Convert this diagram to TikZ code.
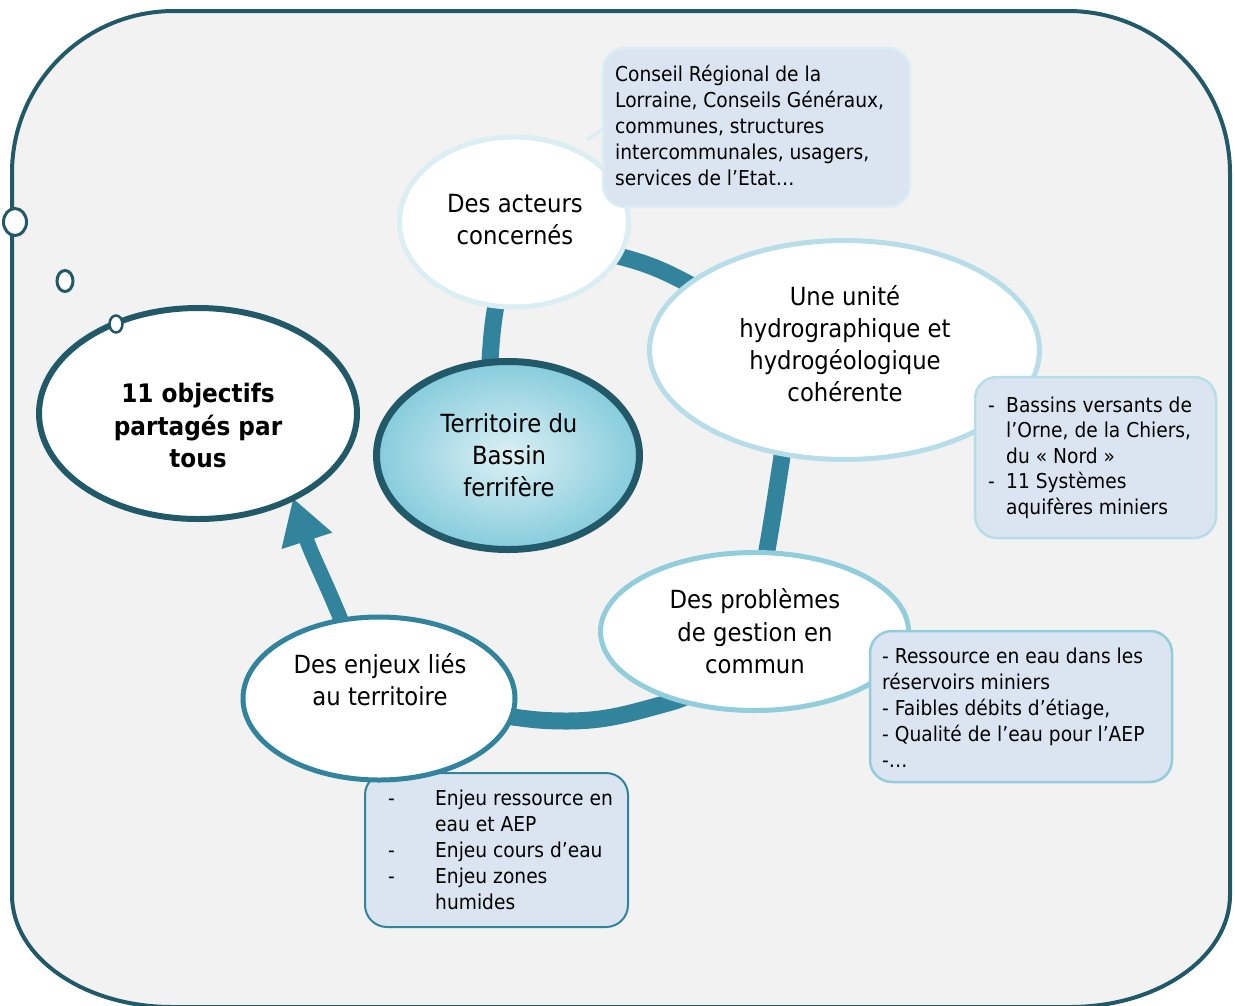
\documentclass[tikz,border=0pt]{standalone}
\usepackage{fontspec}
\setmainfont{DejaVu Sans}[FakeStretch=0.91]
\usetikzlibrary{shapes.geometric,arrows.meta}
\definecolor{frameC}{HTML}{215968}
\definecolor{ringC}{HTML}{31849B}
\definecolor{probC}{HTML}{92CDDC}
\definecolor{uniteC}{HTML}{B7DEE8}
\definecolor{actC}{HTML}{DAEEF3}
\definecolor{boxF}{HTML}{DBE5F1}
\definecolor{bgC}{HTML}{F2F2F2}
\definecolor{terrIn}{HTML}{DCF0F5}
\definecolor{terrOut}{HTML}{86CCDC}
\begin{document}
\begin{tikzpicture}[x=1pt,y=1pt,
  bubble/.style={ellipse, fill=white, inner sep=0pt, line width=5pt},
  bigtext/.style={align=center, font=\fontsize{25}{32}\selectfont, inner sep=0pt},
  boxtext/.style={align=left, font=\fontsize{20.5}{26}\selectfont, inner sep=0pt, anchor=west},
  callout/.style={fill=boxF, rounded corners=22pt, line width=2.5pt, inner sep=0pt},
  ringline/.style={draw=ringC, line width=17pt},
  dotcirc/.style={ellipse, draw=frameC, fill=white, line width=3pt, inner sep=0pt}
]
\useasboundingbox (0,0) rectangle (1235,-1005);
\clip (0,0) rectangle (1235,-1005);
% outer frame
\draw[frameC, line width=4pt, fill=bgC] (12,-173) arc[start angle=180, end angle=90, radius=162]
  -- (1068,-11) arc[start angle=90, end angle=0, radius=162]
  -- (1230,-895) arc[start angle=0, end angle=-90, x radius=160, y radius=112]
  -- (172,-1007) arc[start angle=270, end angle=180, x radius=160, y radius=112] -- cycle;
% ring waypoints
\coordinate (P0) at (486,-410);
\coordinate (P1) at (497,-300);
\coordinate (P2) at (622,-257);
\coordinate (P3) at (687,-283);
\coordinate (P4) at (781,-463);
\coordinate (P5) at (767,-550);
\coordinate (P6) at (668,-703);
\coordinate (P7) at (567,-721);
\coordinate (P8) at (513,-717);
\coordinate (P9) at (351,-645);
\coordinate (tip) at (293,-498);
\draw[ringline] (P0) to[out=83,in=259] (P1) to[out=79,in=165] (P2) to[out=-15,in=152] (P3)
  to[out=-28,in=81] (P4) to[out=-99,in=80] (P5) to[out=-100,in=15] (P6)
  to[out=195,in=0] (P7) to[out=180,in=-8] (P8) to[out=172,in=-69] (P9);
\draw[ringC, line width=15pt, -{Triangle[width=50pt,length=45pt]}] (P9) to[out=111,in=-72] (tip);
% pointer of first callout
\coordinate (ptA) at (587,-140);
\coordinate (ptB) at (604,-128);
\draw[actC, line width=3pt] (ptA) -- (ptB);
% bubbles
\node[bubble, draw=actC, minimum width=229pt, minimum height=170pt] (act) at (514,-222) {};
\node[bigtext] (actT) at (515,-220) {Des acteurs\\concernés};
\node[bubble, draw=uniteC, minimum width=390pt, minimum height=219pt] (uni) at (844.5,-350) {};
\node[bigtext] (uniT) at (845,-343.5) {Une unité\\hydrographique et\\hydrogéologique\\cohérente};
\node[bubble, draw=probC, minimum width=308pt, minimum height=158pt] (prob) at (754.5,-631.5) {};
\node[bigtext, font=\fontsize{25}{32.5}\selectfont] (probT) at (755,-631.5) {Des problèmes\\de gestion en\\commun};
% territoire
\node[ellipse, draw=frameC, line width=7pt, inner sep=0pt, shade, inner color=terrIn, outer color=terrOut,
  minimum width=263pt, minimum height=188pt] (terr) at (508,-455.5) {};
\node[bigtext] (terrT) at (509,-455.5) {Territoire du\\Bassin\\ferrifère};
% objectifs
\node[ellipse, draw=frameC, line width=6pt, fill=white, inner sep=0pt,
  minimum width=318pt, minimum height=211pt] (obj) at (198,-413.5) {};
\node[align=center, inner sep=0pt, font=\bfseries\fontsize{25.5}{32.5}\selectfont] (objT) at (198,-425.5) {11 objectifs\\partagés par\\tous};
% thought dots
\node[dotcirc, minimum width=23pt, minimum height=27pt] (d1) at (15,-222) {};
\node[dotcirc, minimum width=16pt, minimum height=21pt] (d2) at (65,-281) {};
\node[dotcirc, line width=2.5pt, minimum width=13pt, minimum height=17pt] (d3) at (116,-324) {};
% callouts
\node[callout, draw=actC, minimum width=307pt, minimum height=159pt] (b1) at (756.5,-127.5) {};
\node[boxtext] (b1T) at (615,-125) {Conseil Régional de la\\Lorraine, Conseils Généraux,\\communes, structures\\intercommunales, usagers,\\services de l’Etat…};
\node[callout, draw=uniteC, minimum width=241pt, minimum height=161pt] (b2) at (1095.5,-457.5) {};
\node[boxtext, font=\fontsize{20.5}{25.5}\selectfont] (b2T) at (988,-457.5) {\makebox[18pt][l]{-}Bassins versants de\\\hspace*{18pt}l’Orne, de la Chiers,\\\hspace*{18pt}du «~Nord~»\\\makebox[18pt][l]{-}11 Systèmes\\\hspace*{18pt}aquifères miniers};
\node[callout, draw=probC, minimum width=302pt, minimum height=151pt] (b3) at (1021,-706.5) {};
\node[boxtext] (b3T) at (882,-707.2) {- Ressource en eau dans les\\réservoirs miniers\\- Faibles débits d’étiage,\\- Qualité de l’eau pour l’AEP\\-…};
\node[callout, draw=ringC, line width=2pt, minimum width=263pt, minimum height=154pt] (b4) at (496.5,-850) {};
\node[boxtext] (b4T) at (388,-850.2) {\makebox[47pt][l]{-}Enjeu ressource en\\\hspace*{47pt}eau et AEP\\\makebox[47pt][l]{-}Enjeu cours d’eau\\\makebox[47pt][l]{-}Enjeu zones\\\hspace*{47pt}humides};
% enjeux (on top of its callout)
\node[bubble, draw=ringC, minimum width=272pt, minimum height=163pt] (enj) at (379,-698.5) {};
\node[bigtext] (enjT) at (380,-679.5) {Des enjeux liés\\au territoire};
\end{tikzpicture}
\end{document}
